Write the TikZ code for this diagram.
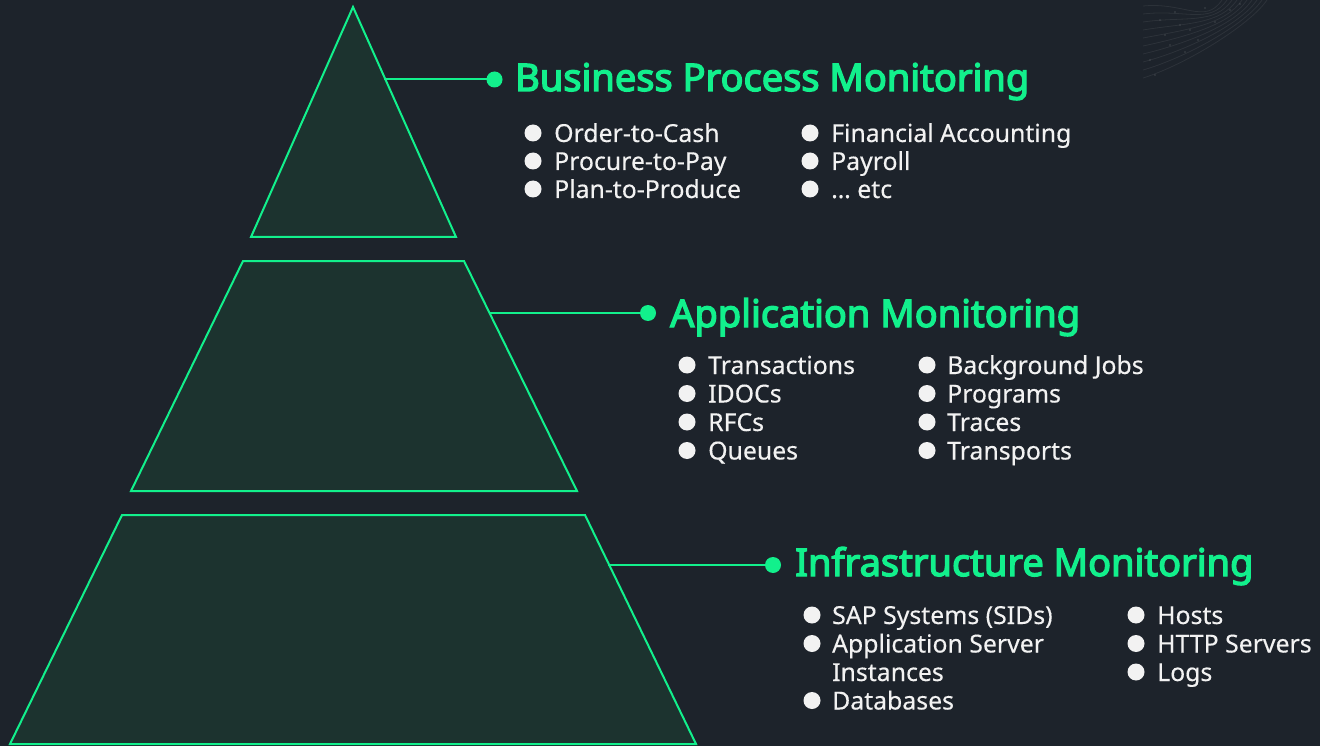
\documentclass[tikz,border=0pt]{standalone}
\usepackage{fontspec}
\setmainfont{Noto Sans}
\newfontfamily\headfont[FakeBold=3.5]{Noto Sans}
\newfontfamily\itemfont[FakeBold=0.3]{Noto Sans}
\definecolor{bg}{HTML}{1D232B}
\definecolor{fillg}{HTML}{1C332F}
\definecolor{neon}{HTML}{12F08C}
\definecolor{txt}{HTML}{F2F2F2}
\begin{document}
\begin{tikzpicture}[x=1pt,y=-1pt,
 tier/.style={draw=neon, line width=2pt, fill=fillg, line join=miter},
 link/.style={draw=neon, line width=2pt},
 tip/.style={circle, fill=neon, inner sep=0pt, minimum size=16pt},
 head/.style={anchor=base west, inner sep=0pt, text=neon, font=\headfont\fontsize{38}{42}\selectfont},
 item/.style={anchor=base west, inner sep=0pt, text=txt, font=\itemfont\fontsize{24.8}{28}\selectfont},
 bul/.style={circle, fill=txt, inner sep=0pt, minimum size=17pt},
 texture/.style={draw=white, draw opacity=0.07, line width=0.8pt}]
\useasboundingbox (0,0) rectangle (1320,746);
\fill[bg] (0,0) rectangle (1320,746);
% faint texture top right
\foreach \k in {0,...,9} {
  \draw[texture] (1143, 6+8*\k) .. controls (1185, 2+7*\k) and (1205+5*\k, 25) .. (1222+5*\k, 0);
}
\foreach \p in {(1160,20),(1175,12),(1190,30),(1205,8),(1170,45),(1185,52),(1150,60),(1215,22),(1230,10),(1198,40),(1165,35),(1240,4),(1180,25),(1155,75)} {
  \fill[white, opacity=0.10] \p circle (1.2pt);
}
% tiers
\draw[tier] (353,7) -- (456,237) -- (251,237) -- cycle;
\draw[tier] (243,261) -- (464,261) -- (577,491) -- (131,491) -- cycle;
\draw[tier] (122,515) -- (585,515) -- (696,744) -- (10,744) -- cycle;
% connectors
\coordinate (s1) at (384,79.5);
\coordinate (s2) at (490,313);
\coordinate (s3) at (608,565);
\node[tip] (d1) at (494.5,79.5) {};
\node[tip] (d2) at (648,313) {};
\node[tip] (d3) at (773,565) {};
\draw[link] (s1) -- (d1.center);
\draw[link] (s2) -- (d2.center);
\draw[link] (s3) -- (d3.center);
% headings
\node[head] (h1) at (515,91) {Business Process Monitoring};
\node[head] (h2) at (670,327) {Application Monitoring};
\node[head] (h3) at (795,576) {Infrastructure Monitoring};
% business items
\foreach \t [count=\i] in {Order-to-Cash, Procure-to-Pay, Plan-to-Produce} {
  \node[bul] (ba\i) at (533,105+28*\i) {};
  \node[item] (bat\i) at (554,114+28*\i) {\t};
}
\foreach \t [count=\i] in {Financial Accounting, Payroll, … etc} {
  \node[bul] (bb\i) at (810,105+28*\i) {};
  \node[item] (bbt\i) at (831,114+28*\i) {\t};
}
% application items
\foreach \t [count=\i] in {Transactions, IDOCs, RFCs, Queues} {
  \node[bul] (aa\i) at (687,336.5+28.5*\i) {};
  \node[item] (aat\i) at (708,345.5+28.5*\i) {\t};
}
\foreach \t [count=\i] in {Background Jobs, Programs, Traces, Transports} {
  \node[bul] (ab\i) at (927,336.5+28.5*\i) {};
  \node[item] (abt\i) at (947,345.5+28.5*\i) {\t};
}
% infrastructure items
\node[bul] (ia1) at (812,615) {};
\node[item] (iat1) at (832,624) {SAP Systems (SIDs)};
\node[bul] (ia2) at (812,643.5) {};
\node[item] (iat2) at (832,652.5) {Application Server};
\node[item] (iat3) at (832,681) {Instances};
\node[bul] (ia4) at (812,700.5) {};
\node[item] (iat4) at (832,709.5) {Databases};
\foreach \t [count=\i] in {Hosts, HTTP Servers, Logs} {
  \node[bul] (ib\i) at (1136,586.5+28.5*\i) {};
  \node[item] (ibt\i) at (1157,595.5+28.5*\i) {\t};
}
\end{tikzpicture}
\end{document}
